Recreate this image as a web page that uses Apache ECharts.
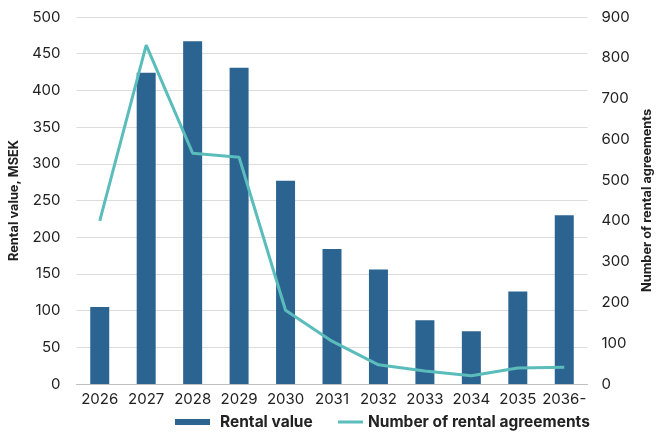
<!DOCTYPE html>
<html>
<head>
<meta charset="utf-8">
<title>Rental value</title>
<style>
  html, body { margin: 0; padding: 0; background: #fff; }
  #main { width: 662px; height: 434px; }
</style>
</head>
<body>
<div id="main"></div>
<script src="https://cdn.jsdelivr.net/npm/echarts@6/dist/echarts.min.js"></script>
<script>
const YEARS = ['2026', '2027', '2028', '2029', '2030', '2031', '2032', '2033', '2034', '2035', '2036-'];
const RENTAL_VALUE = [105, 424, 467, 431, 277, 184, 156, 87, 72, 126, 230];
const AGREEMENTS = [400, 831, 566, 556, 181, 105, 47, 32, 20, 39, 41];

const FONT = 'Inter, "Noto Sans", sans-serif';
const LEGEND_TEXT = { fontSize: 15.5, fontWeight: 'bold', color: '#222', fontFamily: FONT };
const chart = echarts.init(document.getElementById('main'));

chart.setOption({
  animation: false,
  textStyle: { fontFamily: FONT },
  grid: { left: 76, right: 68, top: 17, bottom: 50 },
  // two legends so each key can have its own swatch size
  legend: [
    {
      top: 414, left: 175, padding: 0,
      itemWidth: 35, itemHeight: 6,
      textStyle: Object.assign({ padding: [0, 0, 0, 5] }, LEGEND_TEXT),
      data: [{ name: 'Rental value', icon: 'rect' }]
    },
    {
      top: 414, left: 338, padding: 0,
      itemWidth: 25, itemHeight: 3,
      textStyle: LEGEND_TEXT,
      data: [{ name: 'Number of rental agreements', icon: 'rect' }]
    }
  ],
  xAxis: {
    type: 'category',
    data: YEARS,
    axisTick: { show: false },
    axisLine: { lineStyle: { color: '#bfbfbf' } },
    axisLabel: { fontSize: 15, color: '#222', margin: 8, interval: 0 }
  },
  yAxis: [
    {
      type: 'value', min: 0, max: 500, interval: 50,
      name: 'Rental value, MSEK',
      nameLocation: 'middle', nameGap: 50,
      nameTextStyle: { fontSize: 12.8, fontWeight: 'bold', color: '#222' },
      axisLabel: { fontSize: 15, color: '#222', margin: 16 },
      splitLine: { lineStyle: { color: '#dcdcdc' } }
    },
    {
      type: 'value', min: 0, max: 900, interval: 100,
      name: 'Number of rental agreements',
      nameLocation: 'middle', nameGap: 43, nameRotate: 90,
      nameTextStyle: { fontSize: 12.8, fontWeight: 'bold', color: '#222' },
      axisLabel: { fontSize: 15, color: '#222', margin: 14 },
      splitLine: { show: false }
    }
  ],
  series: [
    {
      name: 'Rental value',
      type: 'bar',
      data: RENTAL_VALUE,
      barWidth: 19,
      itemStyle: { color: '#2c6491' }
    },
    {
      name: 'Number of rental agreements',
      type: 'line',
      yAxisIndex: 1,
      data: AGREEMENTS,
      showSymbol: false,
      symbol: 'none',
      lineStyle: { color: '#5bbcbc', width: 3 },
      itemStyle: { color: '#5bbcbc' }
    }
  ]
});
</script>
</body>
</html>
